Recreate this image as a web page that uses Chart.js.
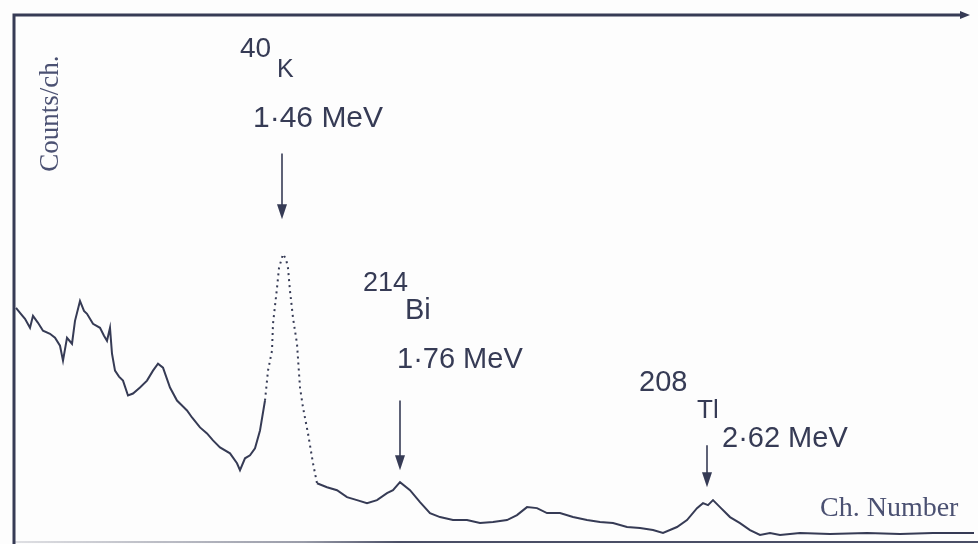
<!DOCTYPE html>
<html>
<head>
<meta charset="utf-8">
<script src="https://cdn.jsdelivr.net/npm/chart.js@4"></script>
<style>
  html, body { margin: 0; padding: 0; background: #fdfdfd; }
  #wrap { width: 978px; height: 544px; position: relative; }
</style>
</head>
<body>
<div id="wrap"><canvas id="spectrum"></canvas></div>
<script>
// Gamma spectrum (channel number, counts per channel)
const channels = [2, 6, 11, 16, 19, 24, 29, 36, 41, 46, 49, 53, 58, 61, 66, 70, 73, 79, 86, 90, 93, 96, 98, 101, 105, 109, 114, 119, 126, 133, 139, 144, 149, 156, 163, 168, 173, 178, 186, 193, 199, 206, 216, 223, 226, 231, 236, 241, 246, 251, 254, 258, 259, 263, 265, 269, 272, 274, 276, 279, 283, 286, 289, 294, 299, 303, 313, 323, 333, 343, 353, 363, 373, 379, 386, 396, 406, 416, 426, 439, 453, 466, 479, 493, 503, 513, 523, 533, 546, 559, 573, 586, 599, 613, 626, 639, 649, 663, 673, 683, 689, 694, 699, 706, 716, 726, 736, 746, 756, 766, 786, 816, 853, 886, 919, 946, 963];
const counts = [462, 452, 440, 422, 446, 432, 416, 410, 402, 386, 356, 402, 390, 436, 476, 456, 450, 430, 422, 406, 396, 422, 370, 336, 324, 316, 286, 290, 302, 316, 336, 350, 342, 302, 276, 266, 256, 242, 222, 210, 196, 182, 170, 150, 136, 160, 166, 180, 216, 276, 336, 376, 430, 502, 542, 570, 560, 542, 496, 442, 390, 302, 262, 210, 150, 110, 102, 96, 82, 76, 70, 76, 90, 96, 112, 96, 72, 50, 42, 36, 36, 30, 32, 36, 46, 62, 60, 50, 50, 42, 36, 32, 30, 22, 20, 16, 10, 22, 36, 60, 70, 66, 76, 62, 42, 30, 16, 6, 10, 6, 10, 8, 10, 8, 10, 10, 10];

// Peak annotations
const peakMass = ["40", "214", "208"];
const peakNuclide = ["K", "Bi", "Tl"];
const peakEnergy = ["1·46 MeV", "1·76 MeV", "2·62 MeV"];
const arrowChannel = [268, 386, 693];
const arrowFrom = [772, 276, 186];
const arrowTo = [640, 136, 102];

const xTitle = "Ch. Number";
const yTitle = "Counts/ch.";

const ink = "#363b55";

// where each label sits, in (channel, counts) of its left baseline, plus font size
const labelLayout = [
  { mass: [226, 966, 28], nuc: [263, 926, 25], en: [239, 826, 30] },
  { mass: [349, 496, 27], nuc: [391, 440, 29], en: [383, 342, 29] },
  { mass: [625, 296, 29], nuc: [683, 240, 26], en: [708, 182, 29] },
];

const framePlugin = {
  id: "frame",
  afterDraw(chart) {
    const { ctx, chartArea: a, scales } = chart;
    const x = scales.x, y = scales.y;
    ctx.save();
    // frame: left and top lines with the arrow tip
    ctx.strokeStyle = ink;
    ctx.lineWidth = 3;
    ctx.beginPath();
    ctx.moveTo(a.left, chart.height);
    ctx.lineTo(a.left, a.top);
    ctx.lineTo(a.right - 10, a.top);
    ctx.stroke();
    ctx.fillStyle = ink;
    ctx.beginPath();
    ctx.moveTo(a.right - 4, a.top);
    ctx.lineTo(a.right - 14, a.top - 4);
    ctx.lineTo(a.right - 14, a.top + 4);
    ctx.closePath();
    ctx.fill();
    // bottom baseline, faint on the left as on the scan
    const g = ctx.createLinearGradient(a.left, 0, chart.width, 0);
    g.addColorStop(0, "rgba(54,59,85,0.15)");
    g.addColorStop(0.3, "rgba(54,59,85,0.5)");
    g.addColorStop(0.4, "rgba(54,59,85,0.9)");
    g.addColorStop(1, "rgba(54,59,85,0.9)");
    ctx.strokeStyle = g;
    ctx.lineWidth = 2;
    ctx.beginPath();
    ctx.moveTo(a.left, a.bottom + 4);
    ctx.lineTo(chart.width, a.bottom + 4);
    ctx.stroke();
    ctx.strokeStyle = ink;

    // arrows
    ctx.lineWidth = 1.6;
    arrowChannel.forEach((c, i) => {
      const px = x.getPixelForValue(c);
      const y0 = y.getPixelForValue(arrowFrom[i]);
      const y1 = y.getPixelForValue(arrowTo[i]);
      ctx.beginPath();
      ctx.moveTo(px, y0);
      ctx.lineTo(px, y1 - 10);
      ctx.stroke();
      ctx.beginPath();
      ctx.moveTo(px, y1);
      ctx.lineTo(px - 5, y1 - 15);
      ctx.lineTo(px + 5, y1 - 15);
      ctx.closePath();
      ctx.fill();
    });

    // peak labels
    ctx.textBaseline = "alphabetic";
    ctx.textAlign = "left";
    labelLayout.forEach((l, i) => {
      [["mass", peakMass[i]], ["nuc", peakNuclide[i]], ["en", peakEnergy[i]]].forEach(([k, txt]) => {
        const [c, v, size] = l[k];
        ctx.font = size + "px 'Liberation Sans', Arial, sans-serif";
        ctx.fillText(txt, x.getPixelForValue(c), y.getPixelForValue(v));
      });
    });

    // axis titles, drawn inside the frame as on the scan
    ctx.fillStyle = "#4b5172";
    ctx.font = "28px 'Liberation Serif', 'Times New Roman', serif";
    ctx.fillText(xTitle, x.getPixelForValue(806), y.getPixelForValue(44));
    ctx.translate(x.getPixelForValue(44), y.getPixelForValue(852));
    ctx.rotate(-Math.PI / 2);
    ctx.textAlign = "center";
    ctx.font = "27px 'Liberation Serif', 'Times New Roman', serif";
    ctx.fillText(yTitle, 0, 0);
    ctx.restore();
  },
};

new Chart(document.getElementById("spectrum"), {
  type: "line",
  data: {
    datasets: [{
      data: channels.map((c, i) => ({ x: c, y: counts[i] })),
      borderColor: ink,
      borderWidth: 2,
      pointRadius: 0,
      tension: 0,
      fill: false,
      segment: {
        borderDash: (s) => (s.p0.parsed.x >= 251 && s.p1.parsed.x <= 304 ? [2, 4] : undefined),
      },
    }],
  },
  options: {
    responsive: true,
    maintainAspectRatio: false,
    animation: false,
    layout: { padding: { left: 14, top: 15, right: 4, bottom: 6 } },
    plugins: { legend: { display: false }, tooltip: { enabled: false } },
    scales: {
      x: { type: "linear", min: 0, max: 960, display: false },
      y: { min: 0, max: 1050, display: false },
    },
  },
  plugins: [framePlugin],
});
</script>
</body>
</html>
